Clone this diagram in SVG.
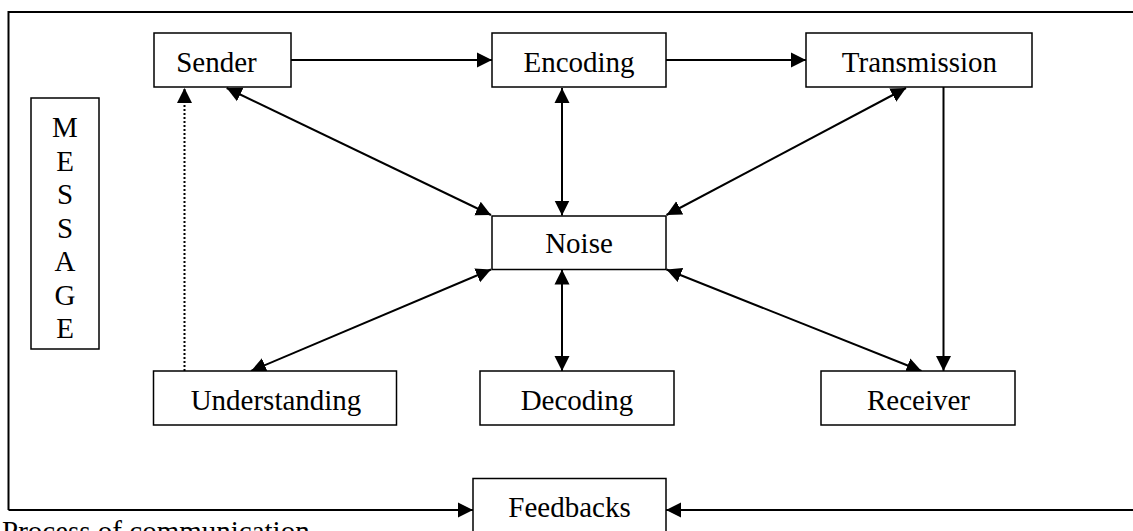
<svg xmlns="http://www.w3.org/2000/svg" width="1133" height="531" viewBox="0 0 1133 531">
<style>
.box{fill:#fff;stroke:#000;stroke-width:1.5}
.t{font-family:"Liberation Serif","Times New Roman",serif;font-size:29px;fill:#000;text-anchor:middle}
.c{fill:none;stroke:#000;stroke-width:2}
</style>
<defs>
<marker id="ah" markerUnits="userSpaceOnUse" markerWidth="16" markerHeight="16" refX="15" refY="7.5" orient="auto-start-reverse" viewBox="0 0 16 15">
<path d="M0,0 L15,7.5 L0,15 Z" fill="#000"/>
</marker>
</defs>
<rect width="1133" height="531" fill="#fff"/>
<g id="frame">
<path d="M1133,12 H8.5 V510" class="c"/>
</g>
<g id="connectors">
<line x1="291" y1="60" x2="492" y2="60" class="c" marker-end="url(#ah)"/>
<line x1="666" y1="60" x2="806" y2="60" class="c" marker-end="url(#ah)"/>
<line x1="943.5" y1="87" x2="943.5" y2="371" class="c" marker-end="url(#ah)"/>
<line x1="226.7" y1="88" x2="491" y2="215" class="c" marker-start="url(#ah)" marker-end="url(#ah)"/>
<line x1="562" y1="88" x2="562" y2="215.5" class="c" marker-start="url(#ah)" marker-end="url(#ah)"/>
<line x1="906" y1="88" x2="666.5" y2="215" class="c" marker-start="url(#ah)" marker-end="url(#ah)"/>
<line x1="491" y1="269.5" x2="251" y2="371" class="c" marker-start="url(#ah)" marker-end="url(#ah)"/>
<line x1="562" y1="269.5" x2="562" y2="371" class="c" marker-start="url(#ah)" marker-end="url(#ah)"/>
<line x1="666.5" y1="269.5" x2="921.5" y2="371" class="c" marker-start="url(#ah)" marker-end="url(#ah)"/>
<line x1="184.5" y1="371" x2="184.5" y2="88" class="c" stroke-dasharray="2,2" marker-end="url(#ah)"/>
<line x1="8.5" y1="510" x2="473" y2="510" class="c" marker-end="url(#ah)"/>
<line x1="1133" y1="510" x2="666" y2="510" class="c" marker-end="url(#ah)"/>
</g>
<g id="message">
<rect x="31" y="98" width="68" height="251" class="box"/>
<text class="t" x="65" y="137">M</text>
<text class="t" x="65" y="171">E</text>
<text class="t" x="65" y="204">S</text>
<text class="t" x="65" y="238">S</text>
<text class="t" x="65" y="271">A</text>
<text class="t" x="65" y="305">G</text>
<text class="t" x="65" y="338">E</text>
</g>
<g id="sender">
<rect x="154" y="33" width="137" height="54" class="box"/>
<text class="t" x="216.5" y="72">Sender</text>
</g>
<g id="encoding">
<rect x="492" y="33" width="174" height="54" class="box"/>
<text class="t" x="579" y="72">Encoding</text>
</g>
<g id="transmission">
<rect x="806" y="33" width="226" height="54" class="box"/>
<text class="t" x="919.5" y="72">Transmission</text>
</g>
<g id="noise">
<rect x="492" y="216" width="174" height="53.5" class="box"/>
<text class="t" x="579" y="253">Noise</text>
</g>
<g id="understanding">
<rect x="153.5" y="371" width="243" height="54" class="box"/>
<text class="t" x="276" y="410">Understanding</text>
</g>
<g id="decoding">
<rect x="480" y="371" width="194" height="54" class="box"/>
<text class="t" x="577" y="410">Decoding</text>
</g>
<g id="receiver">
<rect x="821" y="371" width="194" height="54" class="box"/>
<text class="t" x="918.5" y="410">Receiver</text>
</g>
<g id="feedbacks">
<rect x="473" y="478.5" width="193" height="60" class="box"/>
<text class="t" x="569.5" y="517">Feedbacks</text>
</g>
<text id="caption" x="2" y="541" style="font-family:'Liberation Serif','Times New Roman',serif;font-size:29px;fill:#000">Process of communication</text>
</svg>
